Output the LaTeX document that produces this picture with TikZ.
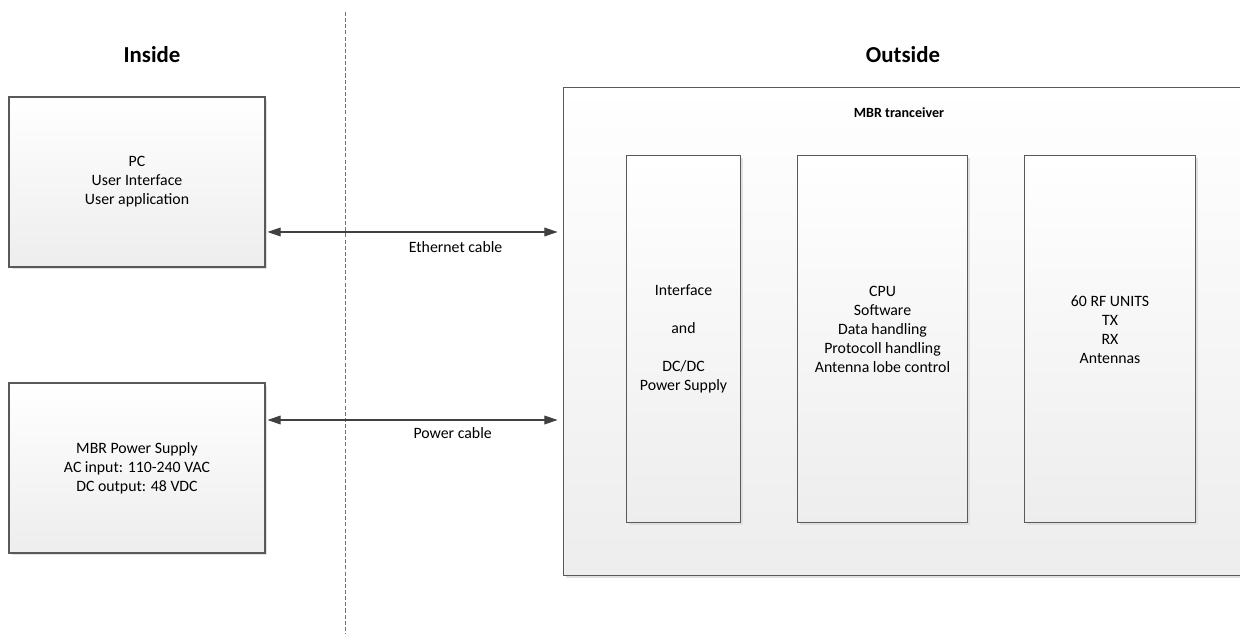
\documentclass[tikz,border=0pt]{standalone}
\usepackage{fontspec}
\setmainfont{Carlito}
\usetikzlibrary{arrows.meta,positioning,shadows}

\begin{document}
\begin{tikzpicture}[x=0.02cm,y=-0.02cm,>={Triangle[length=7.5pt,width=5pt]},node distance=1.12cm,
	box/.style={draw=black!65,line width=0.6pt,top color=white,bottom color=black!7,
		drop shadow={shadow xshift=0.05cm,shadow yshift=-0.05cm,fill=black!12,opacity=1},
		align=center,inner sep=0pt,font=\fontsize{9}{10.8}\selectfont},
	side/.style={font=\bfseries\fontsize{13}{15}\selectfont},
	cable/.style={<->,draw=black!75,line width=0.6pt,shorten <=0.04cm,shorten >=0.1cm},
	cablelabel/.style={font=\fontsize{9}{10.8}\selectfont}]

			\useasboundingbox (0,0) rectangle (1240,634);

			% inside / outside
			\draw[black!55,line width=0.6pt,dash pattern=on 2.3pt off 1.2pt] (345.5,12) -- (345.5,634);
			\node[side] (inside) at (152,55) {Inside};
			\node[side] (outside) at (903,55) {Outside};

			\node[box,minimum width=5.12cm,minimum height=3.4cm] (pc) at (137,182) {PC\\User Interface\\User application};
			\node[box,minimum width=5.12cm,minimum height=3.4cm,below=2.3cm of pc] (psu) {MBR Power Supply\\AC input: 110-240 VAC\\DC output: 48 VDC};

			% transceiver
			\node[box,minimum width=13.6cm,minimum height=9.78cm] (mbr) at (903,331.5) {};
			\node[font=\bfseries\fontsize{8}{10}\selectfont] (mbrname) at (899,113) {MBR tranceiver};

			\node[box,minimum width=2.28cm,minimum height=7.36cm] (iface) at (683.5,339) {Interface\\~\\and\\~\\DC/DC\\Power Supply};
			\node[box,minimum width=3.4cm,minimum height=7.36cm,right=of iface] (cpu) {CPU\\Software\\Data handling\\Protocoll handling\\Antenna lobe control\\~};
			\node[box,minimum width=3.42cm,minimum height=7.36cm,right=of cpu] (rf) {60 RF UNITS\\TX\\RX\\Antennas\\~};

			\path
			([yshift=-1cm]pc.east) edge[cable] node[cablelabel,pos=0.64,yshift=-0.3cm] {Ethernet cable} ([yshift=-1cm]pc.east -| mbr.west)
			([yshift=0.96cm]psu.east) edge[cable] node[cablelabel,pos=0.63,yshift=-0.27cm] {Power cable} ([yshift=0.96cm]psu.east -| mbr.west)
			;
		\end{tikzpicture}
\end{document}
